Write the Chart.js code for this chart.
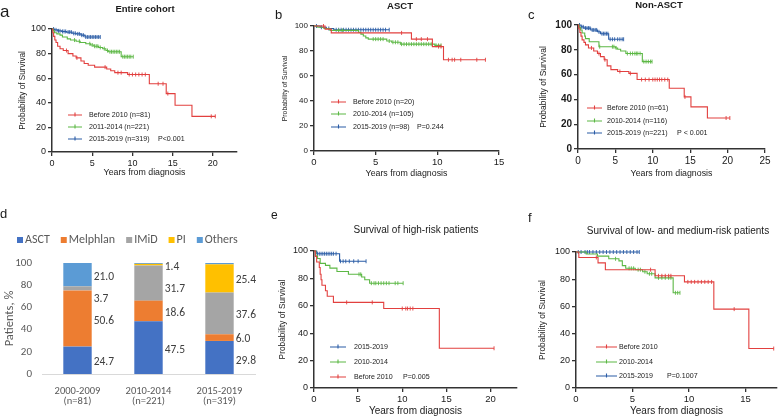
<!DOCTYPE html>
<html>
<head>
<meta charset="utf-8">
<script src="https://cdn.jsdelivr.net/npm/chart.js@4.4.1/dist/chart.umd.min.js"></script>
<style>
  body { margin: 0; background: #fff; }
  #wrap { position: relative; width: 780px; height: 417px; background: #fff; }
  canvas { position: absolute; }
</style>
</head>
<body>
<div id="wrap">
  <canvas id="pa" width="260" height="200" style="left:0;top:0"></canvas>
  <canvas id="pb" width="260" height="200" style="left:260px;top:0"></canvas>
  <canvas id="pc" width="260" height="200" style="left:520px;top:0"></canvas>
  <canvas id="pd" width="260" height="217" style="left:0;top:200px"></canvas>
  <canvas id="pe" width="260" height="217" style="left:260px;top:200px"></canvas>
  <canvas id="pf" width="260" height="217" style="left:520px;top:200px"></canvas>
</div>
<script>
// ---- Kaplan-Meier data: [years, % surviving after the step], plus censored times ----

// a: entire cohort
const aBeforeEvents = [[0,100],[0.1,97],[0.2,94],[0.35,91],[0.5,89],[0.7,86],[1.0,84],[1.4,82.5],[2.0,80],[2.6,78],[3.0,76.5],[3.6,74],[4.0,72],[4.5,70.5],[5.3,69],[6.8,67.5],[7.3,66],[7.8,64.5],[9.4,63],[12.1,55.5],[14.2,47.5],[15.3,38],[17.4,29]];
const aBeforeCensored = [1.8,3.1,6.6,8.2,8.6,9.6,10.0,10.4,10.8,11.2,11.6,13.2,13.8,14.4,19.8,20.3];
const aMidEvents = [[0,100],[0.15,98.5],[0.3,97],[0.6,96],[1.0,95],[1.3,93.5],[1.9,92],[2.3,91],[3.0,90],[3.5,89],[4.2,88],[4.8,87],[5.2,86],[5.8,85],[6.3,84],[6.7,82.5],[7.0,81.5],[8.6,77.5]];
const aMidCensored = [2.8,3.4,4.7,5.0,5.3,5.5,5.7,6.0,6.5,6.9,7.2,7.4,7.6,7.8,8.0,8.2,8.4,8.8,9.0,9.2,9.4,9.6,9.8,10.1];
const aRecentEvents = [[0,100],[0.3,99.3],[0.7,98.5],[1.2,98],[1.8,97.5],[2.5,96.5],[3.0,96],[3.6,95],[4.1,93.5]];
const aRecentCensored = [0.2,0.5,0.8,1.0,1.3,1.5,1.7,2.0,2.2,2.4,2.7,2.9,3.2,3.4,3.7,3.9,4.2,4.4,4.6,4.8,5.0,5.2,5.4,5.6,5.8,6.0];

// b: ASCT
const bBeforeEvents = [[0,100],[0.9,97.5],[1.4,94.5],[7.9,89.5],[9.6,83.5],[10.5,73]];
const bBeforeCensored = [0.77,7.1,8.3,8.7,9.2,10.1,10.3,10.9,11.2,11.4,11.9,13.2,13.9];
const bMidEvents = [[0,100],[0.3,99],[0.8,98],[1.3,96.5],[3.6,95],[3.8,93.5],[4.0,92],[4.2,90.5],[4.4,89.5],[5.9,88],[6.3,87],[7.0,85.5],[9.8,84.5]];
const bMidCensored = [2.0,2.3,4.8,5.0,5.2,5.4,5.6,6.1,6.4,6.6,6.8,7.1,7.3,7.5,7.7,7.9,8.1,8.3,8.5,8.7,8.9,9.1,9.3,9.5,9.9,10.1,10.3];
const bRecentEvents = [[0,100],[0.5,99],[1.0,98],[1.6,97]];
const bRecentCensored = [0.2,0.6,1.2,1.8,2.0,2.2,2.4,2.6,2.8,3.0,3.2,3.4,3.6,3.8,4.0,4.2,4.4,4.6,4.8,5.0,5.2,5.4,5.6,5.8,6.1];

// c: non-ASCT
const cBeforeEvents = [[0,100],[0.1,97],[0.25,94],[0.4,91],[0.55,88],[0.8,86],[1.0,84],[1.4,81.5],[2.1,79],[2.6,77],[3.0,74.5],[3.5,72],[3.9,67],[4.4,64],[5.3,62.5],[6.8,61],[7.9,56],[12.2,49],[14.2,42],[15.1,34],[17.3,25]];
const cBeforeCensored = [1.8,2.8,3.6,5.6,7.0,8.5,9.0,9.5,10.0,10.3,10.6,10.9,11.2,11.6,12.0,14.3,19.8,20.3];
const cMidEvents = [[0,100],[0.15,98],[0.35,96],[0.55,93.5],[0.9,91],[1.0,89],[1.5,86.5],[2.8,82.5],[5.0,81.5],[5.3,80.5],[5.7,79],[6.4,77],[8.6,70.5]];
const cMidCensored = [2.9,4.6,4.8,5.1,6.6,7.0,7.3,7.6,7.8,8.0,8.3,8.8,9.1,9.4,9.7,9.9];
const cRecentEvents = [[0,100],[0.4,98.5],[0.8,97.5],[1.7,96],[2.6,94.5],[3.0,93],[4.1,88.5]];
const cRecentCensored = [0.2,0.5,0.7,1.0,1.2,1.4,1.6,1.9,2.1,2.3,2.5,2.8,3.2,3.4,3.6,3.8,4.0,4.3,4.6,4.9,5.3,5.6,5.9,6.1];

// e: high-risk patients
const eRecentEvents = [[0,100],[0.3,98],[2.9,92.5]];
const eRecentCensored = [0.4,0.6,0.8,1.0,1.2,1.4,1.6,1.8,2.0,2.2,2.5,3.0,3.3,3.6,4.0,4.5,5.0,5.9];
const eMidEvents = [[0,100],[0.2,96.5],[0.4,94.5],[0.7,91],[1.3,89.5],[1.8,87.5],[2.6,85],[3.9,83],[5.4,81],[5.75,79],[6.3,76.5]];
const eMidCensored = [5.1,5.3,6.5,6.8,7.0,7.3,7.6,7.9,8.2,8.5,9.2,9.5,10.1];
const eBeforeEvents = [[0,100],[0.15,96],[0.3,92],[0.6,88],[0.7,83],[0.8,79],[0.9,75],[1.3,71],[1.5,67],[2.2,62.5],[7.9,58],[14.2,29]];
const eBeforeCensored = [3.7,6.6,10.0,10.4,10.6,10.9,11.2,20.4];

// f: low- and medium-risk patients
const fBeforeEvents = [[0,100],[0.25,96],[1.95,92],[2.6,87],[7.0,82.5],[9.6,78],[12.2,58],[15.3,29]];
const fBeforeCensored = [1.8,6.6,7.3,7.6,7.9,8.2,8.4,9.9,10.2,10.5,10.8,11.1,11.4,11.7,12.0,14.0,17.5];
const fMidEvents = [[0,100],[0.9,98.5],[1.9,97],[2.9,95],[3.8,93.5],[4.1,90],[4.4,88],[5.25,87],[5.9,85.5],[6.3,84],[7.0,81],[8.6,70]];
const fMidCensored = [3.5,4.7,4.9,5.1,5.5,5.7,6.1,6.5,6.7,7.3,7.6,7.9,8.2,8.4,8.8,9.0,9.2];
const fRecentEvents = [[0,100]];
const fRecentCensored = [0.2,0.45,0.8,1.0,1.2,1.5,1.8,2.1,2.4,2.7,3.0,3.3,3.6,3.9,4.2,4.5,4.8,5.1,5.4,5.6];

// d: treatment by period (%)
const dCategories = [['2000-2009', '(n=81)'], ['2010-2014', '(n=221)'], ['2015-2019', '(n=319)']];
const dSeriesNames = ['ASCT', 'Melphlan', 'IMiD', 'PI', 'Others'];
const dAsct = [24.7, 47.5, 29.8];
const dMelphlan = [50.6, 18.6, 6.0];
const dImid = [3.7, 31.7, 37.6];
const dPi = [0, 1.4, 25.4];
const dOthers = [21.0, 0.8, 1.2];

const RED = '#e2403f';
const GREEN = '#5cb845';
const BLUE = '#2a5ca6';
const INK = '#1a1a1a';
const SANS = '"Liberation Sans", Arial, sans-serif';

Chart.defaults.font.family = SANS;
Chart.defaults.color = INK;

// merge events and censored times into one step series
function kmPoints(events, censored) {
    const pts = events.map(p => ({ x: p[0], y: p[1], c: false }));
    censored.forEach(t => {
        let y = 100;
        events.forEach(p => { if (p[0] <= t) y = p[1]; });
        pts.push({ x: t, y: y, c: true });
    });
    return pts.sort((a, b) => (a.x - b.x) || (a.c - b.c));
}

// title, panel letter, inner legend and p value
const kmDeco = {
    id: 'kmDeco',
    afterDraw(chart, args, o) {
        const ctx = chart.ctx;
        ctx.save();
        ctx.fillStyle = INK;
        ctx.textAlign = 'left';
        ctx.textBaseline = 'alphabetic';
        ctx.font = o.letterFont;
        ctx.fillText(o.letter, o.letterX, o.letterY);

        ctx.textAlign = 'center';
        ctx.textBaseline = 'middle';
        ctx.font = o.titleFont;
        ctx.fillText(o.title, o.titleX, o.titleY);

        ctx.textAlign = 'left';
        ctx.font = '7.1px ' + SANS;
        o.order.forEach((di, i) => {
            const ds = chart.data.datasets[di];
            const y = o.rows[i];
            const mx = (o.lineX1 + o.lineX2) / 2;
            ctx.strokeStyle = ds.borderColor;
            ctx.lineWidth = 1.1;
            ctx.beginPath();
            ctx.moveTo(o.lineX1, y);
            ctx.lineTo(o.lineX2, y);
            ctx.moveTo(mx, y - 2.5);
            ctx.lineTo(mx, y + 1.5);
            ctx.stroke();
            ctx.fillStyle = INK;
            ctx.fillText(ds.label, o.textX, y);
        });
        ctx.fillText(o.pText, o.pX, o.rows[o.rows.length - 1]);
        ctx.restore();
    }
};

function kmChart(id, curves, p) {
    const el = document.getElementById(id);
    const axisLine = { display: true, color: '#333', width: 1.5 };
    const axisGrid = { display: true, drawOnChartArea: false, drawTicks: true, tickLength: 4, tickColor: '#333', lineWidth: 1.3 };
    return new Chart(el, {
        type: 'line',
        data: {
            datasets: curves.map(cv => ({
                label: cv.label,
                data: kmPoints(cv.events, cv.censored),
                borderColor: cv.color,
                borderWidth: 1.1,
                stepped: true,
                fill: false,
                clip: false,
                pointStyle: 'line',
                rotation: 90,
                pointRadius: ctx => (ctx.raw && ctx.raw.c ? 2 : 0),
                pointHoverRadius: 0,
                pointBorderColor: cv.color,
                pointBorderWidth: 0.9
            }))
        },
        options: {
            responsive: false,
            animation: false,
            events: [],
            layout: { padding: { left: 0, top: p.top, right: p.right, bottom: 0 } },
            plugins: {
                legend: { display: false },
                tooltip: { enabled: false },
                kmDeco: p.deco
            },
            scales: {
                x: {
                    type: 'linear', min: 0, max: p.xMax,
                    afterFit: s => { s.height = p.xH; },
                    border: axisLine, grid: axisGrid,
                    ticks: { stepSize: 5, includeBounds: false, maxRotation: 0, padding: 2, font: p.xTickFont, color: INK },
                    title: { display: true, text: 'Years from diagnosis', font: p.xTitleFont, color: INK, padding: { top: 0, bottom: p.xTitlePad } }
                },
                y: {
                    min: 0, max: 100,
                    afterFit: s => { s.width = p.yW; },
                    border: axisLine, grid: axisGrid,
                    ticks: { stepSize: 20, padding: 2, font: p.yTickFont, color: INK },
                    title: { display: true, text: 'Probability of Survival', font: p.yTitleFont, color: INK, padding: { top: p.yTitlePad, bottom: 0 } }
                }
            }
        },
        plugins: [kmDeco]
    });
}

// ---- panel a ----
kmChart('pa', [
    { label: 'Before 2010 (n=81)', events: aBeforeEvents, censored: aBeforeCensored, color: RED },
    { label: '2011-2014 (n=221)', events: aMidEvents, censored: aMidCensored, color: GREEN },
    { label: '2015-2019 (n=319)', events: aRecentEvents, censored: aRecentCensored, color: BLUE }
], {
    top: 29, right: 23, xH: 48, yW: 52, xMax: 23,
    xTickFont: { size: 9 }, yTickFont: { size: 9 },
    xTitleFont: { size: 8.8 }, yTitleFont: { size: 8.2 }, xTitlePad: 22, yTitlePad: 18,
    deco: {
        letter: 'a', letterFont: '17px ' + SANS, letterX: 0, letterY: 17,
        title: 'Entire cohort', titleFont: 'bold 9.5px ' + SANS, titleX: 145, titleY: 9,
        order: [0, 1, 2], rows: [115, 127, 139],
        lineX1: 68, lineX2: 82, textX: 89, pText: 'P<0.001', pX: 158
    }
});

// ---- panel b ----
kmChart('pb', [
    { label: 'Before 2010 (n=20)', events: bBeforeEvents, censored: bBeforeCensored, color: RED },
    { label: '2010-2014 (n=105)', events: bMidEvents, censored: bMidCensored, color: GREEN },
    { label: '2015-2019 (n=98)', events: bRecentEvents, censored: bRecentCensored, color: BLUE }
], {
    top: 26, right: 21, xH: 49, yW: 54, xMax: 15,
    xTickFont: { size: 9.5 }, yTickFont: { size: 8 },
    xTitleFont: { size: 8.8 }, yTitleFont: { size: 6.8 }, xTitlePad: 21, yTitlePad: 21,
    deco: {
        letter: 'b', letterFont: '13px ' + SANS, letterX: 15, letterY: 19,
        title: 'ASCT', titleFont: 'bold 9.5px ' + SANS, titleX: 140, titleY: 6,
        order: [0, 1, 2], rows: [102, 114, 127],
        lineX1: 71, lineX2: 86, textX: 93, pText: 'P=0.244', pX: 157
    }
});

// ---- panel c ----
kmChart('pc', [
    { label: 'Before 2010 (n=61)', events: cBeforeEvents, censored: cBeforeCensored, color: RED },
    { label: '2010-2014 (n=116)', events: cMidEvents, censored: cMidCensored, color: GREEN },
    { label: '2015-2019 (n=221)', events: cRecentEvents, censored: cRecentCensored, color: BLUE }
], {
    top: 25, right: 15, xH: 51, yW: 58, xMax: 25,
    xTickFont: { size: 10 }, yTickFont: { size: 10, weight: 'bold' },
    xTitleFont: { size: 8.8 }, yTitleFont: { size: 8.5 }, xTitlePad: 21, yTitlePad: 19,
    deco: {
        letter: 'c', letterFont: '13px ' + SANS, letterX: 8, letterY: 18.5,
        title: 'Non-ASCT', titleFont: 'bold 9.5px ' + SANS, titleX: 139, titleY: 5.5,
        order: [0, 1, 2], rows: [108, 121, 133],
        lineX1: 67, lineX2: 82, textX: 87, pText: 'P < 0.001', pX: 157
    }
});

// ---- panel e ----
kmChart('pe', [
    { label: 'Before 2010', events: eBeforeEvents, censored: eBeforeCensored, color: RED },
    { label: '2010-2014', events: eMidEvents, censored: eMidCensored, color: GREEN },
    { label: '2015-2019', events: eRecentEvents, censored: eRecentCensored, color: BLUE }
], {
    top: 51, right: 3, xH: 29, yW: 54, xMax: 23,
    xTickFont: { size: 9.5 }, yTickFont: { size: 9 },
    xTitleFont: { size: 10 }, yTitleFont: { size: 8.3 }, xTitlePad: 0, yTitlePad: 18,
    deco: {
        letter: 'e', letterFont: '12px ' + SANS, letterX: 11, letterY: 18.5,
        title: 'Survival of high-risk patients', titleFont: '10px ' + SANS, titleX: 156, titleY: 30,
        order: [2, 1, 0], rows: [147, 162, 177],
        lineX1: 70, lineX2: 86, textX: 94, pText: 'P=0.005', pX: 143
    }
});

// ---- panel f ----
kmChart('pf', [
    { label: 'Before 2010', events: fBeforeEvents, censored: fBeforeCensored, color: RED },
    { label: '2010-2014', events: fMidEvents, censored: fMidCensored, color: GREEN },
    { label: '2015-2019', events: fRecentEvents, censored: fRecentCensored, color: BLUE }
], {
    top: 52, right: 2, xH: 29, yW: 56, xMax: 17.8,
    xTickFont: { size: 9.5 }, yTickFont: { size: 9 },
    xTitleFont: { size: 10 }, yTitleFont: { size: 8.3 }, xTitlePad: 0, yTitlePad: 18,
    deco: {
        letter: 'f', letterFont: '13px ' + SANS, letterX: 8, letterY: 22,
        title: 'Survival of low- and medium-risk patients', titleFont: '10px ' + SANS, titleX: 158, titleY: 31,
        order: [0, 1, 2], rows: [147, 162, 176],
        lineX1: 76, lineX2: 97, textX: 99, pText: 'P=0.1007', pX: 147
    }
});

// ---- panel d: stacked bars ----
const D_FONT = "Carlito, Lato, 'Liberation Sans', sans-serif";
const D_GRAY = '#595959';
const dColors = ['#4472c4', '#ed7d31', '#a5a5a5', '#ffc000', '#5b9bd5'];
const dValues = [dAsct, dMelphlan, dImid, dPi, dOthers];
const MIN_LABEL = 1.3;   // smaller slivers carry no label

const barDeco = {
    id: 'barDeco',
    afterDraw(chart) {
        const ctx = chart.ctx;
        const ys = chart.scales.y;
        ctx.save();
        // panel letter
        ctx.fillStyle = INK;
        ctx.font = '13px ' + SANS;
        ctx.textAlign = 'left';
        ctx.textBaseline = 'alphabetic';
        ctx.fillText('d', 0, 18);

        // legend row
        ctx.font = '12px ' + D_FONT;
        ctx.textBaseline = 'middle';
        let x = 17;
        chart.data.datasets.forEach(ds => {
            ctx.fillStyle = ds.backgroundColor;
            ctx.fillRect(x, 37, 6, 6);
            ctx.fillStyle = D_GRAY;
            ctx.fillText(ds.label, x + 8, 40);
            x += 8 + ctx.measureText(ds.label).width + 11;
        });

        // value labels right of each bar, pushed apart when crowded
        ctx.font = '11.5px ' + D_FONT;
        ctx.fillStyle = '#404040';
        const meta0 = chart.getDatasetMeta(0);
        meta0.data.forEach((bar, i) => {
            const right = bar.x + bar.width / 2 + 2;
            let base = 0;
            const marks = [];
            dValues.forEach(vals => {
                const v = vals[i];
                if (v >= MIN_LABEL) marks.push({ v: v, y: ys.getPixelForValue(base + v / 2) + 2 });
                base += v;
            });
            marks.reverse();
            let prev = -Infinity;
            marks.forEach(m => {
                const y = Math.max(m.y, prev + 22);
                ctx.fillText(m.v.toFixed(1), right, y);
                prev = y;
            });
        });
        ctx.restore();
    }
};

new Chart(document.getElementById('pd'), {
    type: 'bar',
    data: {
        labels: dCategories,
        datasets: dSeriesNames.map((name, k) => ({
            label: name,
            data: dValues[k],
            backgroundColor: dColors[k],
            borderWidth: 0,
            categoryPercentage: 1,
            barPercentage: 0.4
        }))
    },
    options: {
        responsive: false,
        animation: false,
        events: [],
        layout: { padding: { left: 0, top: 63, right: 5, bottom: 0 } },
        plugins: { legend: { display: false }, tooltip: { enabled: false } },
        scales: {
            x: {
                stacked: true,
                afterFit: s => { s.height = 43; },
                grid: { display: false, drawTicks: false },
                border: { display: true, color: '#d9d9d9', width: 1 },
                ticks: { padding: 12, color: D_GRAY, font: { family: D_FONT, size: 10.5, lineHeight: 1.0 } }
            },
            y: {
                stacked: true, min: 0, max: 100,
                afterFit: s => { s.width = 42; },
                grid: { display: false, drawTicks: false },
                border: { display: false },
                ticks: { stepSize: 20, padding: 10, color: D_GRAY, font: { family: D_FONT, size: 11 } },
                title: { display: true, text: 'Patients, %', color: D_GRAY, font: { family: D_FONT, size: 12.5 }, padding: { top: 2.5, bottom: 0 } }
            }
        }
    },
    plugins: [barDeco]
});
</script>
</body>
</html>
